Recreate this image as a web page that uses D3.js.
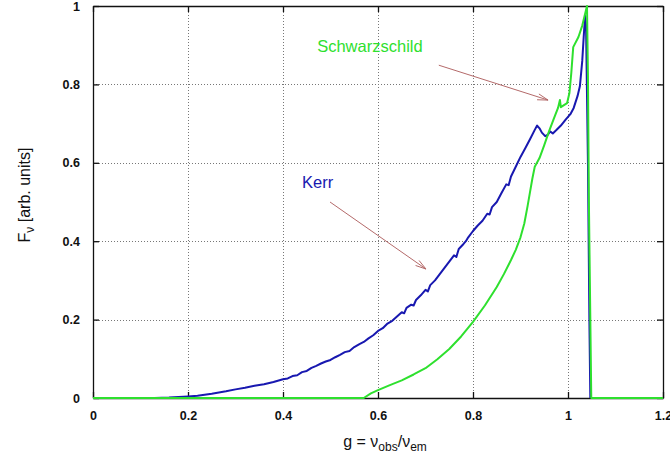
<!DOCTYPE html>
<html>
<head>
<meta charset="utf-8">
<script src="https://cdn.jsdelivr.net/npm/d3@7"></script>
<style>
  body { margin: 0; background: #fff; }
  text { font-family: "Liberation Sans", Arial, sans-serif; }
</style>
</head>
<body>
<svg id="chart"></svg>
<script>
// Kerr profile (blue)
const kerrG = [0.13, 0.16, 0.2, 0.22, 0.25, 0.28, 0.3, 0.32, 0.34, 0.36, 0.38, 0.4, 0.41, 0.42, 0.43, 0.44, 0.45, 0.46, 0.47, 0.48, 0.49, 0.5,
  0.51, 0.52, 0.53, 0.54, 0.55, 0.56, 0.57, 0.58, 0.59, 0.6, 0.61, 0.62, 0.63, 0.64, 0.65, 0.655, 0.66, 0.67, 0.675, 0.68, 0.69, 0.7, 0.705,
  0.71, 0.72, 0.73, 0.74, 0.75, 0.76, 0.765, 0.77, 0.78, 0.785, 0.79, 0.8, 0.81, 0.82, 0.83, 0.835, 0.84, 0.85, 0.86, 0.87, 0.875, 0.88,
  0.89, 0.9, 0.91, 0.92, 0.93, 0.935, 0.94, 0.945, 0.952, 0.958, 0.962, 0.968, 0.975, 0.985, 0.995, 1.005, 1.012, 1.02, 1.025, 1.03, 1.033,
  1.036, 1.038, 1.042, 1.045, 1.047];
const kerrF = [0, 0.001, 0.004, 0.006, 0.011, 0.017, 0.022, 0.026, 0.031, 0.035, 0.041, 0.048, 0.05, 0.056, 0.058, 0.066, 0.069, 0.077, 0.082, 0.088, 0.093, 0.097,
  0.104, 0.11, 0.117, 0.12, 0.13, 0.137, 0.143, 0.152, 0.16, 0.171, 0.178, 0.19, 0.197, 0.208, 0.219, 0.216, 0.23, 0.238, 0.236, 0.25, 0.262, 0.276, 0.272,
  0.288, 0.3, 0.316, 0.332, 0.348, 0.364, 0.36, 0.38, 0.393, 0.4, 0.41, 0.426, 0.44, 0.452, 0.47, 0.468, 0.487, 0.5, 0.523, 0.545, 0.543, 0.565,
  0.59, 0.615, 0.637, 0.66, 0.684, 0.695, 0.688, 0.677, 0.668, 0.672, 0.68, 0.675, 0.683, 0.695, 0.71, 0.724, 0.74, 0.77, 0.795, 0.86, 0.92,
  0.975, 0.95, 0.6, 0.2, 0];

// Schwarzschild profile (green)
const schwG = [0, 0.57, 0.585, 0.6, 0.625, 0.65, 0.675, 0.7, 0.725, 0.75, 0.775, 0.8, 0.825, 0.85, 0.865, 0.88, 0.89, 0.9, 0.908,
  0.915, 0.92, 0.925, 0.93, 0.94, 0.95, 0.96, 0.97, 0.979, 0.983, 0.985, 0.998, 1.003, 1.007, 1.011,
  1.022, 1.03, 1.04, 1.042, 1.044, 1.047, 1.049, 1.2];
const schwF = [0, 0, 0.012, 0.02, 0.033, 0.045, 0.06, 0.076, 0.099, 0.125, 0.157, 0.194, 0.236, 0.283, 0.316, 0.352, 0.378, 0.41, 0.445,
  0.49, 0.525, 0.56, 0.59, 0.612, 0.645, 0.68, 0.712, 0.74, 0.76, 0.742, 0.752, 0.778, 0.83, 0.895,
  0.921, 0.95, 1.0, 0.82, 0.5, 0.2, 0, 0];

const xTicks = [0, 0.2, 0.4, 0.6, 0.8, 1, 1.2];
const yTicks = [0, 0.2, 0.4, 0.6, 0.8, 1];

const width = 670, height = 458;
const svg = d3.select("#chart").attr("width", width).attr("height", height);

const x = d3.scaleLinear().domain([0, 1.2]).range([93, 663]);
const y = d3.scaleLinear().domain([0, 1]).range([398, 6]);

// grid
const grid = svg.append("g")
  .attr("stroke", "#777")
  .attr("stroke-width", 1)
  .attr("stroke-dasharray", "1,2");
grid.selectAll(".gx").data(xTicks.slice(1, -1)).enter().append("line")
  .attr("x1", d => Math.round(x(d)) + 0.5).attr("x2", d => Math.round(x(d)) + 0.5)
  .attr("y1", y(1)).attr("y2", y(0));
grid.selectAll(".gy").data(yTicks.slice(1, -1)).enter().append("line")
  .attr("y1", d => Math.round(y(d)) + 0.5).attr("y2", d => Math.round(y(d)) + 0.5)
  .attr("x1", x(0)).attr("x2", x(1.2));

// axes (ticks pointing inward, both sides)
const tickFmt = d => d3.format("~g")(d);
svg.append("g").attr("transform", `translate(0,${y(0)})`)
  .call(d3.axisBottom(x).tickValues(xTicks).tickSizeInner(-6).tickSizeOuter(0).tickPadding(13).tickFormat(tickFmt));
svg.append("g").attr("transform", `translate(${x(0)},0)`)
  .call(d3.axisLeft(y).tickValues(yTicks).tickSizeInner(-6).tickSizeOuter(0).tickPadding(13).tickFormat(tickFmt));
svg.append("g").attr("transform", `translate(0,${y(1)})`)
  .call(d3.axisTop(x).tickValues(xTicks).tickSizeInner(-6).tickSizeOuter(0).tickFormat(""));
svg.append("g").attr("transform", `translate(${x(1.2)},0)`)
  .call(d3.axisRight(y).tickValues(yTicks).tickSizeInner(-6).tickSizeOuter(0).tickFormat(""));

svg.selectAll(".domain").attr("stroke", "#111").attr("stroke-width", 1.3);
svg.selectAll(".tick line").attr("stroke", "#111").attr("stroke-width", 1.3);
svg.selectAll(".tick text")
  .attr("font-family", "'Liberation Sans', Arial, sans-serif")
  .attr("font-size", 12.5).attr("font-weight", "bold").attr("fill", "#111");

// curves
const line = d3.line().x(d => x(d[0])).y(d => y(d[1]));
svg.append("path")
  .datum(kerrG.map((g, i) => [g, kerrF[i]]))
  .attr("fill", "none").attr("stroke", "#1818b0").attr("stroke-width", 2)
  .attr("stroke-linejoin", "round").attr("d", line);
svg.append("path")
  .datum(schwG.map((g, i) => [g, schwF[i]]))
  .attr("fill", "none").attr("stroke", "#2ee02e").attr("stroke-width", 2)
  .attr("stroke-linejoin", "round").attr("d", line);

// annotations
const arrowColor = "#b46a6a";
function arrow(x1, y1, x2, y2) {
  const px1 = x(x1), py1 = y(y1), px2 = x(x2), py2 = y(y2);
  const a = Math.atan2(py2 - py1, px2 - px1);
  const len = 11, spread = 0.28;
  svg.append("line").attr("x1", px1).attr("y1", py1).attr("x2", px2).attr("y2", py2)
    .attr("stroke", arrowColor).attr("stroke-width", 1);
  svg.append("path")
    .attr("d", `M${px2 - len * Math.cos(a - spread)},${py2 - len * Math.sin(a - spread)}L${px2},${py2}L${px2 - len * Math.cos(a + spread)},${py2 - len * Math.sin(a + spread)}`)
    .attr("fill", "none").attr("stroke", arrowColor).attr("stroke-width", 1);
}

svg.append("text").attr("x", x(0.472)).attr("y", y(0.882))
  .attr("font-size", 16.5).attr("fill", "#2ee02e").text("Schwarzschild");
arrow(0.728, 0.849, 0.958, 0.76);

svg.append("text").attr("x", x(0.44)).attr("y", y(0.536))
  .attr("font-size", 16.5).attr("fill", "#1818b0").text("Kerr");
arrow(0.499, 0.5, 0.701, 0.329);

// axis titles
const xt = svg.append("text").attr("x", 385).attr("y", 447)
  .attr("text-anchor", "middle").attr("font-size", 16).attr("fill", "#111");
xt.append("tspan").text("g = ν");
xt.append("tspan").attr("font-size", 12).attr("dy", 4).text("obs");
xt.append("tspan").attr("dy", -4).text("/ν");
xt.append("tspan").attr("font-size", 12).attr("dy", 4).text("em");

const yt = svg.append("text").attr("transform", "translate(30,195) rotate(-90)")
  .attr("text-anchor", "middle").attr("font-size", 16).attr("fill", "#111");
yt.append("tspan").text("F");
yt.append("tspan").attr("font-size", 12).attr("dy", 4).text("ν");
yt.append("tspan").attr("dy", -4).text(" [arb. units]");
</script>
</body>
</html>
